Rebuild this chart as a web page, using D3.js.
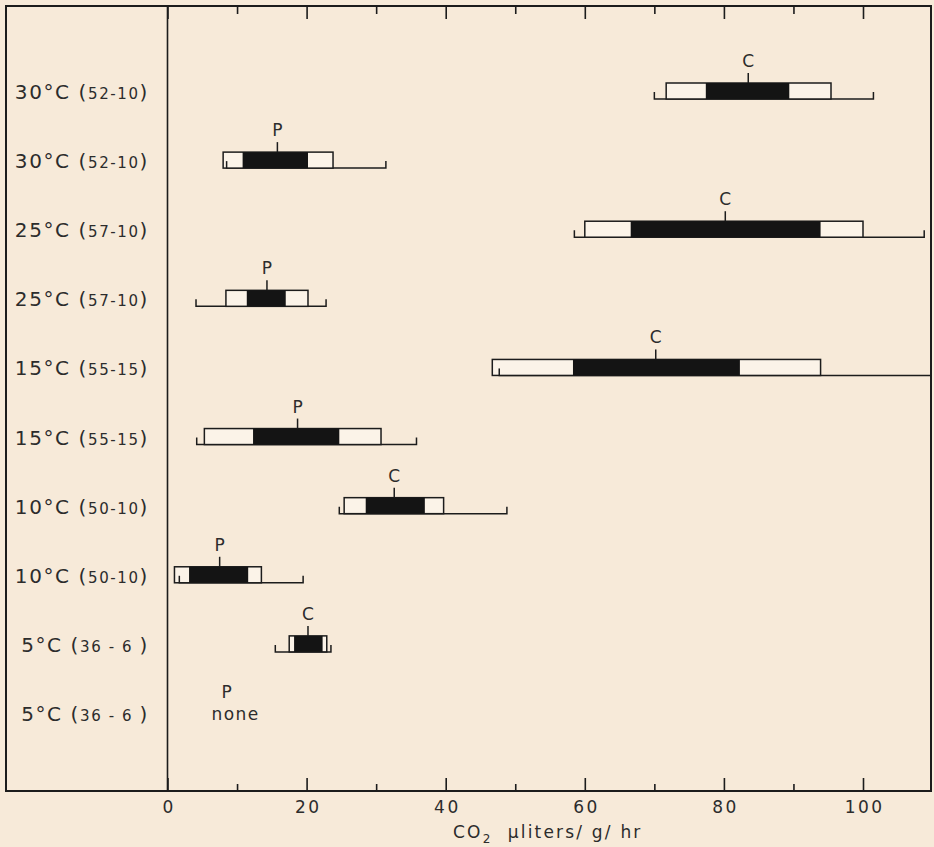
<!DOCTYPE html>
<html>
<head>
<meta charset="utf-8">
<script src="https://cdn.jsdelivr.net/npm/d3@7"></script>
<style>
  body { margin: 0; background: #f7ead9; }
  text { font-family: "DejaVu Sans", "Open Sans", sans-serif; fill: #2c2c2c; }
</style>
</head>
<body>
<script>
// rows from top to bottom
var temps = ['30°C', '30°C', '25°C', '25°C', '15°C', '15°C', '10°C', '10°C', '5°C', '5°C'];
var counts = ['52-10', '52-10', '57-10', '57-10', '55-15', '55-15', '50-10', '50-10', '36 - 6 ', '36 - 6 '];
var groups = ['C', 'P', 'C', 'P', 'C', 'P', 'C', 'P', 'C', 'P'];

// CO2 values (µl/g/hr); last row has no data ("none")
var rangeLo = [70.0, 8.5, 58.5, 4.1, 47.7, 4.2, 24.7, 1.7, 15.5, null];
var rangeHi = [101.5, 31.4, 108.8, 22.8, 110, 35.8, 48.8, 19.5, 23.5, null];
var sdLo = [71.7, 8.0, 60.0, 8.4, 46.7, 5.3, 25.4, 1.0, 17.5, null];
var sdHi = [95.4, 23.8, 100.0, 20.2, 93.9, 30.7, 39.7, 13.5, 22.9, null];
var ciLo = [77.4, 10.8, 66.6, 11.4, 58.3, 12.3, 28.5, 3.1, 18.2, null];
var ciHi = [89.4, 20.2, 93.9, 17.0, 82.3, 24.7, 37.0, 11.6, 22.3, null];
var means = [83.5, 15.8, 80.2, 14.3, 70.2, 18.7, 32.6, 7.5, 20.2, 8.5];

var xTicks = [0, 10, 20, 30, 40, 50, 60, 70, 80, 90, 100];

var frame = { left: 6, right: 931, top: 6, bottom: 791 };
var ink = '#1c1c1c';

var svg = d3.select('body').append('svg')
  .attr('width', 934)
  .attr('height', 847);

svg.append('rect').attr('width', 934).attr('height', 847).attr('fill', '#f7ead9');

var x = d3.scaleLinear().domain([0, 100]).range([167.5, 863]);
var y = d3.scalePoint().domain(d3.range(temps.length)).range([92, 714]);

svg.append('clipPath').attr('id', 'inside')
  .append('rect')
  .attr('x', frame.left).attr('y', frame.top)
  .attr('width', frame.right - frame.left).attr('height', frame.bottom - frame.top);

// frame and zero line
svg.append('rect')
  .attr('x', frame.left).attr('y', frame.top)
  .attr('width', frame.right - frame.left).attr('height', frame.bottom - frame.top)
  .attr('fill', 'none').attr('stroke', ink).attr('stroke-width', 2);

svg.append('line')
  .attr('x1', x(0)).attr('x2', x(0))
  .attr('y1', frame.top).attr('y2', frame.bottom)
  .attr('stroke', ink).attr('stroke-width', 1.6);

// bottom axis, ticks pointing up
var bottomAxis = svg.append('g')
  .attr('transform', 'translate(0,' + frame.bottom + ')')
  .call(d3.axisBottom(x).tickValues(xTicks).tickSize(-13).tickPadding(10));
bottomAxis.select('.domain').remove();
bottomAxis.selectAll('.tick line').attr('stroke', ink).attr('stroke-width', 1.6)
  .filter(function(d) { return d % 20 !== 0; }).attr('y2', -7);
bottomAxis.selectAll('.tick text')
  .style('font-size', '17px').style('fill', '#2c2c2c')
  .style('letter-spacing', '2.5px')
  .attr('dx', 1.2)
  .style('font-family', '"DejaVu Sans", sans-serif')
  .filter(function(d) { return d % 20 !== 0; }).remove();

// top axis, ticks pointing down
var topAxis = svg.append('g')
  .attr('transform', 'translate(0,' + frame.top + ')')
  .call(d3.axisTop(x).tickValues(xTicks).tickSize(-13));
topAxis.select('.domain').remove();
topAxis.selectAll('.tick text').remove();
topAxis.selectAll('.tick line').attr('stroke', ink).attr('stroke-width', 1.6)
  .filter(function(d) { return d % 20 !== 0; }).attr('y2', 8);

// axis title
var title = svg.append('text')
  .attr('x', 453).attr('y', 838)
  .style('font-size', '17px')
  .style('letter-spacing', '2.2px');
title.append('tspan').text('CO');
title.append('tspan').text('2').style('font-size', '12px').attr('dy', 5);
title.append('tspan').text('\u00a0 µliters/ g/ hr').attr('dy', -5);

// row labels
var labels = svg.selectAll('.rowlabel')
  .data(temps)
  .enter()
  .append('text')
  .attr('class', 'rowlabel')
  .attr('x', 149)
  .attr('y', function(d, i) { return y(i) + 7; })
  .attr('text-anchor', 'end')
  .style('letter-spacing', '1.6px');
labels.append('tspan').text(function(d) { return d + ' ('; }).style('font-size', '20px');
labels.append('tspan').text(function(d, i) { return counts[i]; }).style('font-size', '15px');
labels.append('tspan').text(')').style('font-size', '20px');

// bars
var rows = d3.range(temps.length).filter(function(i) { return rangeLo[i] !== null; });
var boxH = 16;
var plot = svg.append('g').attr('clip-path', 'url(#inside)');

plot.selectAll('.range')
  .data(rows)
  .enter()
  .append('path')
  .attr('class', 'range')
  .attr('d', function(i) {
    var yb = y(i) + 7;
    return 'M' + x(rangeLo[i]) + ',' + (yb - 7) + 'V' + yb + 'H' + x(rangeHi[i]) + 'V' + (yb - 7);
  })
  .attr('fill', 'none').attr('stroke', ink).attr('stroke-width', 1.5);

plot.selectAll('.sd')
  .data(rows)
  .enter()
  .append('rect')
  .attr('class', 'sd')
  .attr('x', function(i) { return x(sdLo[i]); })
  .attr('width', function(i) { return x(sdHi[i]) - x(sdLo[i]); })
  .attr('y', function(i) { return y(i) + 7 - boxH; })
  .attr('height', boxH)
  .attr('fill', '#fbf3e8').attr('stroke', ink).attr('stroke-width', 1.5);

// redraw the inner range ticks that fall inside a white box
plot.selectAll('.innertick')
  .data(rows.filter(function(i) { return rangeLo[i] > sdLo[i]; }))
  .enter()
  .append('line')
  .attr('x1', function(i) { return x(rangeLo[i]); })
  .attr('x2', function(i) { return x(rangeLo[i]); })
  .attr('y1', function(i) { return y(i) + 7; })
  .attr('y2', function(i) { return y(i); })
  .attr('stroke', ink).attr('stroke-width', 1.5);

plot.selectAll('.ci')
  .data(rows)
  .enter()
  .append('rect')
  .attr('class', 'ci')
  .attr('x', function(i) { return x(ciLo[i]); })
  .attr('width', function(i) { return x(ciHi[i]) - x(ciLo[i]); })
  .attr('y', function(i) { return y(i) + 7 - boxH; })
  .attr('height', boxH)
  .attr('fill', '#141414');

plot.selectAll('.mean')
  .data(rows)
  .enter()
  .append('line')
  .attr('class', 'mean')
  .attr('x1', function(i) { return x(means[i]); })
  .attr('x2', function(i) { return x(means[i]); })
  .attr('y1', function(i) { return y(i) + 7 - boxH; })
  .attr('y2', function(i) { return y(i) + 7 - boxH - 10; })
  .attr('stroke', ink).attr('stroke-width', 1.5);

svg.selectAll('.group')
  .data(rows)
  .enter()
  .append('text')
  .attr('class', 'group')
  .attr('x', function(i) { return x(means[i]); })
  .attr('y', function(i) { return y(i) + 7 - boxH - 16; })
  .attr('text-anchor', 'middle')
  .style('font-size', '17px')
  .text(function(i) { return groups[i]; });

// row without data
var last = temps.length - 1;
svg.append('text')
  .attr('x', x(means[last])).attr('y', y(last) - 16)
  .attr('text-anchor', 'middle').style('font-size', '17px')
  .text(groups[last]);
svg.append('text')
  .attr('x', x(means[last]) + 9).attr('y', y(last) + 6)
  .attr('text-anchor', 'middle').style('font-size', '17px')
  .style('letter-spacing', '1.5px')
  .text('none');
</script>
</body>
</html>
